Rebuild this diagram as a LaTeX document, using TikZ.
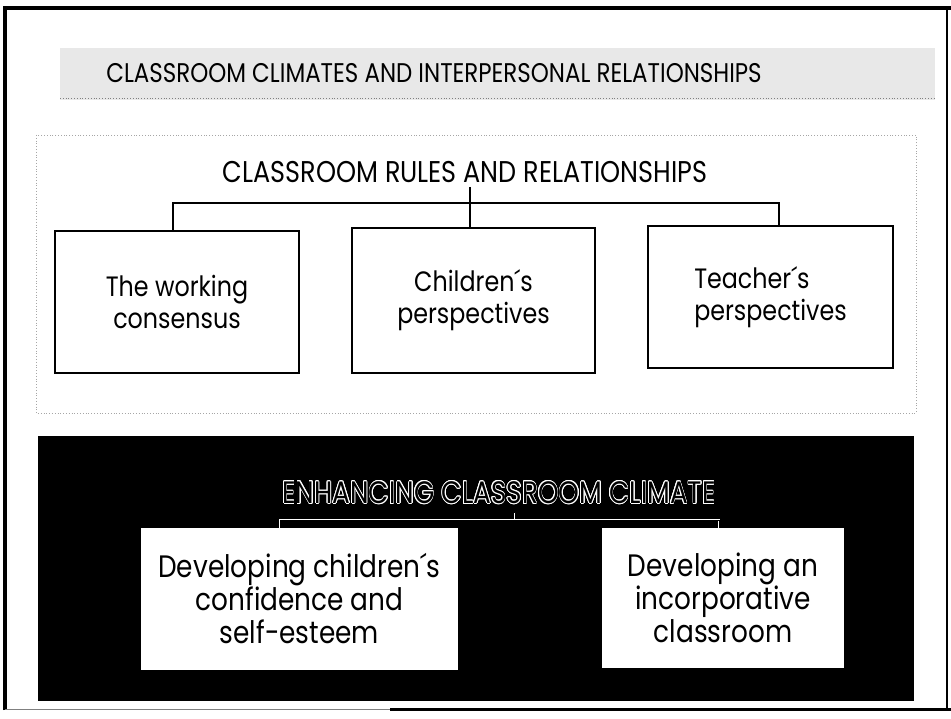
\documentclass[tikz,border=0pt]{standalone}
\usepackage{fontspec}
\setmainfont{Poppins}[FakeStretch=0.85]
\usepackage{contour}
\contourlength{0.7pt}
\contournumber{16}
\begin{document}
\begin{tikzpicture}[x=1pt,y=-1pt,
  upbox/.style={draw=black, line width=1.5pt, fill=white, font=\fontsize{28}{32}\selectfont, align=center, inner sep=0pt},
  lowbox/.style={draw=none, fill=white, font=\fontsize{31}{33}\selectfont, align=center, inner sep=0pt},
  heading/.style={inner sep=0pt},
  conn/.style={draw=black, line width=1.8pt},
  wconn/.style={draw=white, double=black, double distance=0.8pt, line width=0.9pt},
]
\useasboundingbox (0,0) rectangle (951,719);
\fill[white] (0,0) rectangle (951,719);
% outer frame
\draw[line width=3.5pt] (5,710) -- (5,8) -- (951,8);
\draw[line width=1.5pt] (947,8) -- (947,710);
\draw[line width=1pt, gray] (5,709) -- (390,709);
\draw[line width=3pt] (390,709) -- (951,709);
% title band
\fill[black!9] (60,48) rectangle (935,100);
\draw[gray, line width=0.8pt, dotted] (60,98) -- (935,98);
\node[heading, font=\fontsize{27}{30}\selectfont] (title) at (434,73) {CLASSROOM CLIMATES AND INTERPERSONAL RELATIONSHIPS};
% upper section
\draw[gray!70, line width=0.8pt, dotted] (36,135) rectangle (916,413);
\node[heading, font=\fontsize{30}{32}\selectfont] (rules) at (465,172) {CLASSROOM RULES AND RELATIONSHIPS};
\node[upbox, minimum width=244pt, minimum height=142pt] (b1) at (177,302) {The working\\consensus};
\node[upbox, minimum width=243pt, minimum height=145pt] (b2) at (473.5,300.5) {Children´s\\perspectives};
\node[upbox, minimum width=245pt, minimum height=142pt, align=left] (b3) at (770.5,297) {Teacher´s\\perspectives};
\coordinate (j1) at (470,203);
\coordinate (d1) at (173,203);
\coordinate (d3) at (779,203);
\draw[conn] (j1 |- rules.south) ++(0,4) -- (j1 |- b2.north);
\draw[conn] (d1 |- b1.north) -- (d1) -- (d3) -- (d3 |- b3.north);
% lower section
\fill[black] (38,436) rectangle (914,701);
\node[heading, font=\fontsize{31}{32}\selectfont, text=black] (enh) at (499,493) {\contour{white}{ENHANCING CLASSROOM CLIMATE}};
\node[lowbox, minimum width=317pt, minimum height=142pt] (b4) at (299.5,599) {Developing children´s\\confidence and\\self-esteem};
\node[lowbox, minimum width=242pt, minimum height=140pt] (b5) at (723,598) {Developing an\\incorporative\\classroom};
\coordinate (j2) at (515,520);
\coordinate (d4) at (280,520);
\coordinate (d5) at (719,520);
\draw[wconn] (j2 |- enh.south) ++(0,8) -- (j2);
\draw[wconn] (d4 |- b4.north) -- (d4) -- (d5) -- (d5 |- b5.north);
\end{tikzpicture}
\end{document}
